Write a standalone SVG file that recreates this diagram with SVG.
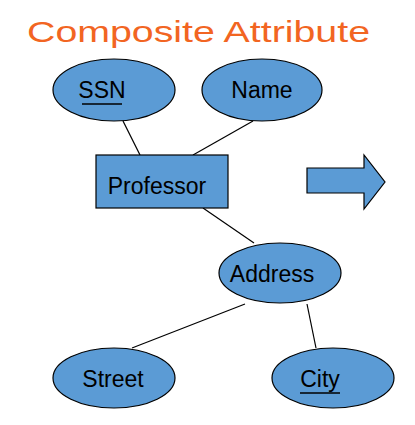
<svg xmlns="http://www.w3.org/2000/svg" width="415" height="425" viewBox="0 0 415 425">
<style>
.shape{fill:#5B9BD5;stroke:#000;stroke-width:1.2}
.lbl{font-family:"Liberation Sans",Arial,sans-serif;font-size:23px;fill:#000;text-anchor:middle}
.ul{stroke:#000;stroke-width:1.3}
.conn line{stroke:#000;stroke-width:1.2}
.title{font-family:"Liberation Sans",Arial,sans-serif;font-size:30px;fill:#F26522}
</style>
<rect width="415" height="425" fill="#fff"/>
<text class="title" x="27" y="42" textLength="343" lengthAdjust="spacingAndGlyphs">Composite Attribute</text>
<g id="connectors" class="conn">
<line x1="123" y1="121" x2="140" y2="155"/>
<line x1="253" y1="121" x2="193" y2="155"/>
<line x1="203" y1="208" x2="254" y2="243"/>
<line x1="245" y1="304" x2="132" y2="348"/>
<line x1="307" y1="304" x2="316" y2="348"/>
</g>
<g id="ssn">
<ellipse class="shape" cx="114" cy="90" rx="61" ry="31"/>
<text class="lbl" x="102" y="98">SSN</text>
<line class="ul" x1="82" y1="104" x2="122" y2="104"/>
</g>
<g id="name">
<ellipse class="shape" cx="262" cy="90" rx="60" ry="31"/>
<text class="lbl" x="262" y="98">Name</text>
</g>
<g id="professor">
<rect class="shape" x="96" y="155" width="132" height="53"/>
<text class="lbl" x="157" y="194">Professor</text>
</g>
<g id="arrow">
<polygon class="shape" points="307,168 364,168 364,155 385,182 364,209 364,193 307,193"/>
</g>
<g id="address">
<ellipse class="shape" cx="280" cy="273" rx="61" ry="30"/>
<text class="lbl" x="272" y="282">Address</text>
</g>
<g id="street">
<ellipse class="shape" cx="114" cy="378" rx="61" ry="30"/>
<text class="lbl" x="113" y="387">Street</text>
</g>
<g id="city">
<ellipse class="shape" cx="333" cy="378" rx="61" ry="30"/>
<text class="lbl" x="320" y="387">City</text>
<line class="ul" x1="300" y1="393" x2="340" y2="393"/>
</g>
</svg>
